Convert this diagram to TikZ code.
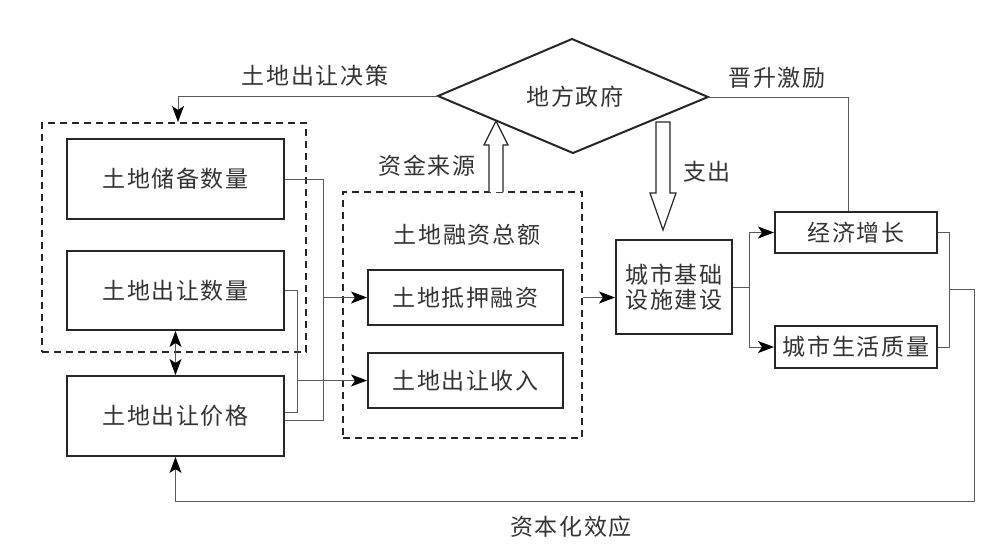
\documentclass[tikz,border=0pt]{standalone}
\usepackage{fontspec}
\newfontfamily\cjk{Noto Sans CJK SC}[LetterSpace=7]
\usetikzlibrary{arrows.meta,calc}
\tikzset{
  txt/.style={font=\cjk\fontsize{23}{27}\selectfont, text=black!80, inner sep=0pt},
  box/.style={txt, draw=black!85, line width=2pt},
  dbox/.style={draw=black!85, line width=2pt, dash pattern=on 7pt off 5pt},
  conn/.style={draw=black!65, line width=1pt},
  arr/.style={conn, -{Stealth[length=16pt,width=12pt,inset=4pt,black]}},
  darr/.style={conn, {Stealth[length=16pt,width=12pt,inset=4pt,black]}-{Stealth[length=16pt,width=12pt,inset=4pt,black]}},
  hollow/.style={draw=black!85, line width=1.2pt, fill=white}
}
\begin{document}
\begin{tikzpicture}[x=1pt,y=-1pt]
\useasboundingbox (0,0) rectangle (1006,550);
% dashed groups
\node[dbox, minimum width=264pt, minimum height=229pt] (ld) at (174,237.5) {};
\node[dbox, minimum width=239pt, minimum height=246pt] (md) at (462.5,315) {};
% left boxes
\node[box, minimum width=217pt, minimum height=80pt] (cb) at (175.5,179) {土地储备数量};
\node[box, minimum width=217pt, minimum height=79pt] (cq) at (175.5,290.5) {土地出让数量};
\node[box, minimum width=217pt, minimum height=80pt] (pr) at (175.5,416) {土地出让价格};
% middle boxes
\node[txt] (tot) at (467,235) {土地融资总额};
\node[box, minimum width=195pt, minimum height=55pt] (mo) at (465.5,297.5) {土地抵押融资};
\node[box, minimum width=195pt, minimum height=55pt] (in) at (465.5,380.5) {土地出让收入};
% city
\node[box, minimum width=116pt, minimum height=94pt, align=center] (ci) at (674,287) {城市基础\\[-2pt]设施建设};
\node[box, minimum width=162pt, minimum height=41pt] (ec) at (856,232.5) {经济增长};
\node[box, minimum width=162pt, minimum height=42pt] (li) at (856,347) {城市生活质量};
% diamond
\coordinate (dl) at (438,96);
\coordinate (dt) at (572,39);
\coordinate (dr) at (708,97);
\coordinate (db) at (573,153);
\draw[draw=black!85, line width=2pt] (dl) -- (dt) -- (dr) -- (db) -- cycle;
\node[txt] (gov) at (575,97) {地方政府};
% labels
\node[txt] (l1) at (315,76) {土地出让决策};
\node[txt] (l2) at (777,78) {晋升激励};
\node[txt] (l3) at (427,166) {资金来源};
\node[txt] (l4) at (707,172) {支出};
\node[txt] (l5) at (571,527) {资本化效应};
% hollow arrows
\draw[hollow] (489,192) -- (489,145) -- (484,145) -- (496,121) -- (508,145) -- (503,145) -- (503,192);
\draw[hollow] (656,122) -- (656,193) -- (650,193) -- (663,230) -- (676,193) -- (670,193) -- (670,122) -- cycle;
% connectors
\draw[arr] (dl) -| ([xshift=4pt]ld.north);
\draw[conn] (dr) -| ([xshift=-8pt]ec.north);
\coordinate (v1) at (323,0);
\coordinate (v2) at (297,0);
\draw[conn] (cb.east) -- (cb.east -| v1) -- ([yshift=-4pt]pr.east -| v1) -- ([yshift=-4pt]pr.east);
\draw[arr] (mo.west -| v1) -- (mo.west);
\draw[conn] (cq.east) -- (cq.east -| v2) -- ([yshift=4pt]pr.east -| v2) -- ([yshift=4pt]pr.east);
\draw[arr] (in.west -| v2) -- (in.west);
\draw[darr] (cq.south) -- (pr.north);
\draw[arr] (mo.east -| md.east) -- (mo.east -| ci.west);
\draw[conn] (ci.east) -- ++(16,0) coordinate (j);
\draw[arr] (j) |- (ec.west);
\draw[arr] (j) |- (li.west);
\draw[conn] (ec.east) -- ++(11,0) coordinate (r1) |- (li.east);
\draw[arr] ($(r1)!.5!(r1|-li.east)$) -- ++(25,0) -- ++(0,211.5) -| (pr.south);
\end{tikzpicture}
\end{document}
